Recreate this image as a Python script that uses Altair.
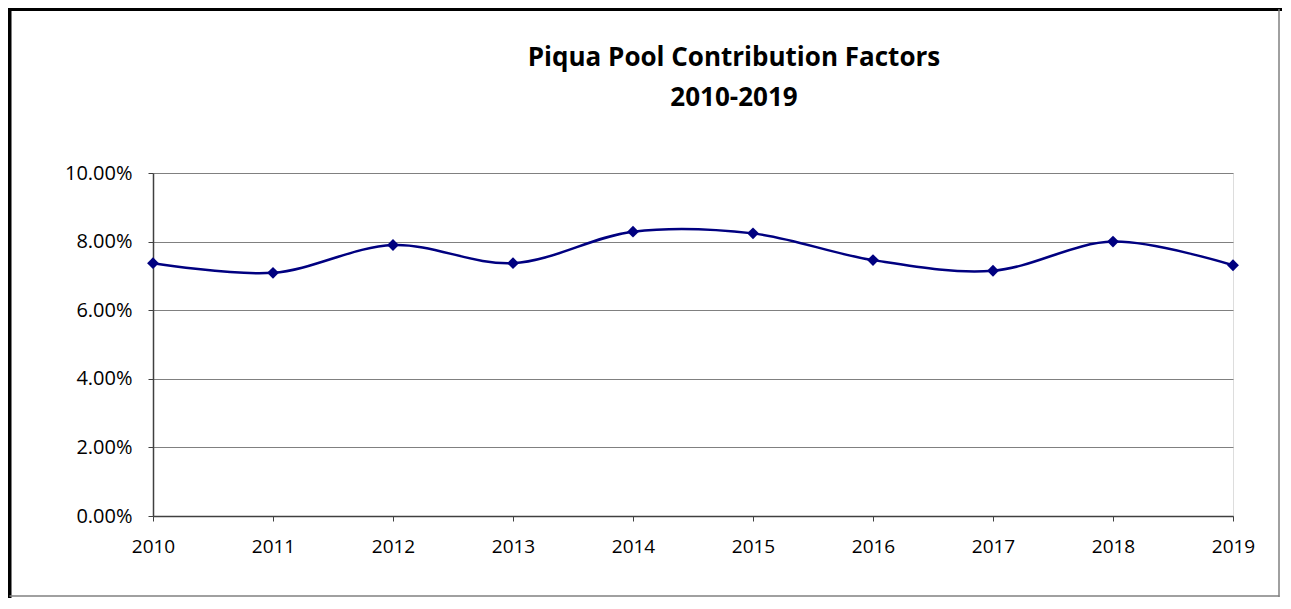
import altair as alt
import pandas as pd

years = [2010, 2011, 2012, 2013, 2014, 2015, 2016, 2017, 2018, 2019]
factors = [0.0737, 0.0709, 0.0790, 0.0737, 0.0829, 0.0824, 0.0746, 0.0715, 0.0800, 0.0731]
title_lines = ["Piqua Pool Contribution Factors", "2010-2019"]

df = pd.DataFrame({"year": years, "factor": factors})

FONT = "Open Sans"
W, H = 1080, 343

x_enc = alt.X("year:Q",
              scale=alt.Scale(domain=[2010, 2019], nice=False, zero=False),
              axis=alt.Axis(values=years, format="d", title=None, grid=False,
                            labelFontSize=19, labelFont=FONT, labelColor="black",
                            labelPadding=16, tickSize=5, tickColor="#404040",
                            domainColor="#404040", domainWidth=1.5, labelFlush=False))
y_enc = alt.Y("factor:Q",
              scale=alt.Scale(domain=[0, 0.10], nice=False),
              axis=alt.Axis(values=[0, 0.02, 0.04, 0.06, 0.08, 0.10], format=".2%",
                            title=None, grid=True, gridColor="#808080", gridWidth=1,
                            labelFontSize=20, labelFont=FONT, labelColor="black",
                            labelPadding=16, tickSize=5, tickColor="#404040",
                            domainColor="#404040", domainWidth=1.5))

line = alt.Chart(df).mark_line(
    interpolate="catmull-rom", color="#000080", strokeWidth=2.5
).encode(x=x_enc, y=y_enc)

pts = alt.Chart(df).mark_point(
    shape="diamond", filled=True, size=140, color="#000080", opacity=1
).encode(x="year:Q", y="factor:Q")

one = alt.Data(values=[{"a": 1}])
title1 = alt.Chart(one).mark_text(
    font=FONT, fontSize=26, fontWeight="bold", color="black", align="center", baseline="middle"
).encode(x=alt.value(581), y=alt.value(-115), text=alt.value(title_lines[0]))
title2 = alt.Chart(one).mark_text(
    font=FONT, fontSize=26, fontWeight="bold", color="black", align="center", baseline="middle"
).encode(x=alt.value(581), y=alt.value(-75), text=alt.value(title_lines[1]))

left_border = alt.Chart(one).mark_rule(color="black", strokeWidth=4).encode(
    x=alt.value(-143.5), y=alt.value(-166), y2=alt.value(430))
top_border = alt.Chart(one).mark_rule(color="black", strokeWidth=4).encode(
    x=alt.value(-145.5), x2=alt.value(1130), y=alt.value(-164))
right_border = alt.Chart(one).mark_rule(color="#808080", strokeWidth=1.5).encode(
    x=alt.value(1126), y=alt.value(-164), y2=alt.value(424))
bottom_border = alt.Chart(one).mark_rule(color="#808080", strokeWidth=1.5).encode(
    x=alt.value(-143.5), x2=alt.value(1126.5), y=alt.value(423))

chart = alt.layer(line, pts, title1, title2,
                  left_border, top_border, right_border, bottom_border).properties(
    width=W, height=H,
    autosize=alt.AutoSizeParams(type="none"),
    padding={"left": 145, "top": 165, "right": 49, "bottom": 82},
).configure_view(stroke="#808080", strokeWidth=2).configure(background="white")

chart.save("out.html", embed_options={"renderer": "svg", "actions": False})
